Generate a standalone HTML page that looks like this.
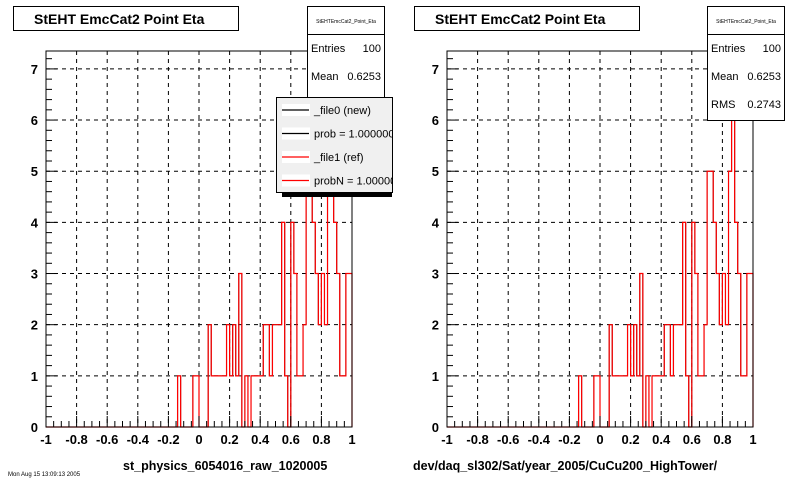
<!DOCTYPE html>
<html><head><meta charset="utf-8"><style>
body{margin:0;background:#fff;}
svg{display:block;font-family:"Liberation Sans",Arial,sans-serif;}
</style></head><body>
<svg id="c" width="800" height="480" viewBox="0 0 800 480"></svg>
<script>
const binEdgesMin = -1, binWidth = 0.02;
const binIndex = [43,48,49,53,54,55,56,57,58,59,60,61,62,63,65,67,68,69,70,71,72,73,74,75,76,77,78,80,81,82,83,84,85,86,87,88,89,90,91,92,93,94,95,96,97,98,99];
const binCount = [1,1,1,2,1,1,1,1,1,2,1,2,1,3,1,1,1,1,1,2,2,1,2,2,2,4,1,4,3,1,1,2,5,5,4,3,2,3,2,5,7,4,3,1,1,3,3];
const xTickLabels = ["-1","-0.8","-0.6","-0.4","-0.2","0","0.2","0.4","0.6","0.8","1"];
const yTickLabels = ["0","1","2","3","4","5","6","7"];
const statsEntries = "100", statsMean = "0.6253", statsRms = "0.2743";

const NS="http://www.w3.org/2000/svg";
const svg=document.getElementById('c');
function mk(tag,attrs,parent){const e=document.createElementNS(NS,tag);for(const k in attrs)e.setAttribute(k,attrs[k]);(parent||svg).appendChild(e);return e;}

function counts(){const c=new Array(100).fill(0);binIndex.forEach((b,i)=>c[b]=binCount[i]);return c;}

function drawPad(px, xlabel, idx){
  const g=mk('g',{});
  
  
  const L=px+46,R=px+352,T=51,B=427;
  const X=v=>L+(v+1)/2*(R-L);
  const Y=v=>B-v*(B-T)/7.35;
  for(let i=1;i<10;i++){const l=mk('line',{x1:X(-1+i*0.2),x2:X(-1+i*0.2),y1:T,y2:B,stroke:'#000','stroke-dasharray':'4,4','stroke-width':1},g);}
  for(let j=1;j<=7;j++){const l=mk('line',{x1:L,x2:R,y1:Y(j),y2:Y(j),stroke:'#000','stroke-dasharray':'4,4','stroke-width':1},g);}
  const c=counts();
  function path(off){let d='M'+X(-1)+','+Y(0);for(let k=0;k<100;k++){const x0=X(binEdgesMin+k*binWidth)+off,x1=X(binEdgesMin+(k+1)*binWidth)+off;d+=' L'+x0+','+Y(c[k])+' L'+x1+','+Y(c[k]);}d+=' L'+R+','+Y(0);return d;}
  const hb=mk('path',{d:path(0),fill:'none',stroke:'#000','stroke-width':1},g);
  
  const hr=mk('path',{d:path(0),fill:'none',stroke:'#f00','stroke-width':1.2},g);
  
  const fr=mk('rect',{x:L,y:T,width:R-L,height:B-T,fill:'none',stroke:'#000','stroke-width':1},g);
  
  for(let i=0;i<=40;i++){const v=-1+i*0.05;const len=(i%4===0)?11:6;mk('line',{x1:X(v),x2:X(v),y1:B,y2:B-len,stroke:'#000'},g);}
  xTickLabels.forEach((s,i)=>{const t=mk('text',{x:X(-1+i*0.2),y:B+17,'text-anchor':'middle','font-size':13,'font-weight':'bold'},g);t.textContent=s;});
  for(let j=0;j<=36;j++){const v=j*0.2;const len=(j%5===0)?11:6;mk('line',{x1:L,x2:L+len,y1:Y(v),y2:Y(v),stroke:'#000'},g);}
  yTickLabels.forEach((s,j)=>{const t=mk('text',{x:L-8,y:Y(j)+5,'text-anchor':'end','font-size':13,'font-weight':'bold'},g);t.textContent=s;});
  const tb=mk('rect',{x:px+13.5,y:6.5,width:225,height:24,fill:'#fff',stroke:'#000'},g);
  
  const tt=mk('text',{x:px+34,y:24,'font-size':14,'font-weight':'bold'},g);tt.textContent='StEHT EmcCat2 Point Eta';
  
  const xl=mk('text',{x:(idx===0?123:413),y:470,'font-size':12.5,'font-weight':'bold'},g);xl.textContent=xlabel;
  
  return {L,R,T,B,g};
}

function stats(x,y,h,rms){
  const g=mk('g',{});
  mk('rect',{x:x+.5,y:y+.5,width:77,height:h,fill:'#fff',stroke:'#000'},g);
  mk('line',{x1:x,x2:x+78,y1:y+28.5,y2:y+28.5,stroke:'#000'},g);
  const n=mk('text',{x:x+39,y:y+17,'text-anchor':'middle','font-size':5},g);n.textContent='StEHTEmcCat2_Point_Eta';
  const rows=[['Entries',statsEntries],['Mean',statsMean]];if(rms)rows.push(['RMS',statsRms]);
  rows.forEach((r,i)=>{const a=mk('text',{x:x+4,y:y+46+i*28,'font-size':11},g);a.textContent=r[0];const b=mk('text',{x:x+74,y:y+46+i*28,'font-size':11,'text-anchor':'end'},g);b.textContent=r[1];});
}

drawPad(0,'st_physics_6054016_raw_1020005',0);
drawPad(401,'dev/daq_sl302/Sat/year_2005/CuCu200_HighTower/',1);
stats(307,6,100,false);
stats(707,6,114,true);

const lg=mk('g',{});
mk('rect',{x:282,y:101,width:110,height:96,fill:'#000'},lg);
mk('rect',{x:276.5,y:97.5,width:116,height:95,fill:'#f0f0f0',stroke:'#000'},lg);
const leg=[['_file0 (new)','#000'],['prob = 1.000000','#000'],['_file1 (ref)','#f00'],['probN = 1.000000','#f00']];
leg.forEach((e,i)=>{const yy=110+i*23.5;
  const eg=mk('g',{},lg);
  mk('rect',{x:282,y:yy-6,width:28,height:12,fill:'#fff'},eg);
  mk('line',{x1:282,x2:309,y1:yy,y2:yy,stroke:e[1],'stroke-width':1.2},eg);
  const t=mk('text',{x:314,y:yy+4,'font-size':11},eg);t.textContent=e[0];});
mk('rect',{x:393,y:95,width:20,height:106,fill:'#fff'});
const ft=mk('text',{x:8,y:476,'font-size':6,fill:'#000'});ft.textContent='Mon Aug 15 13:09:13 2005';

</script>
</body></html>
